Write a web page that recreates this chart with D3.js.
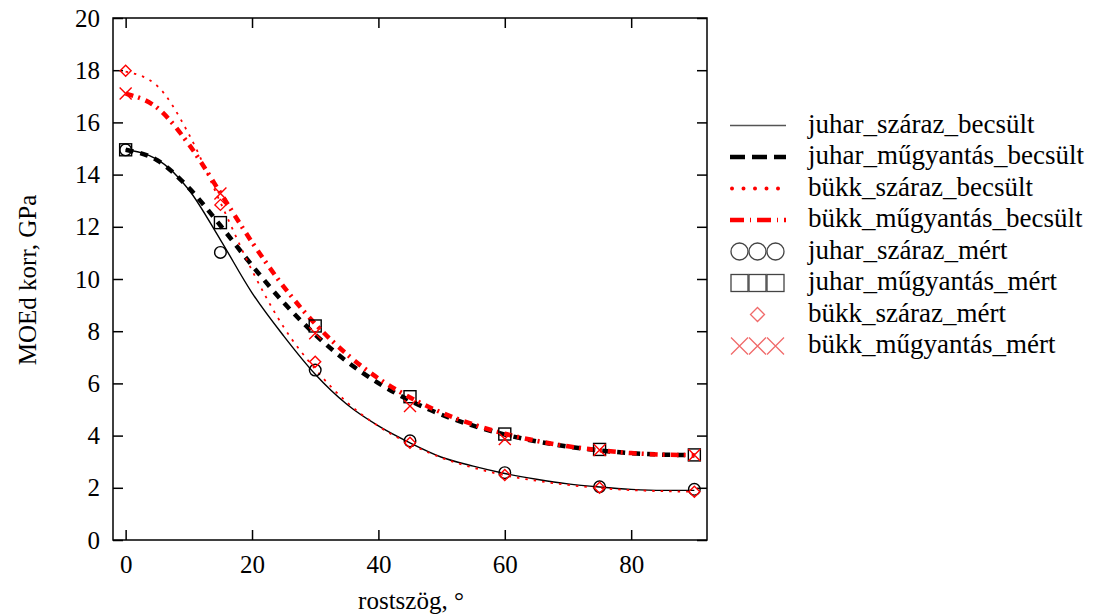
<!DOCTYPE html>
<html>
<head>
<meta charset="utf-8">
<script src="https://cdn.jsdelivr.net/npm/d3@7"></script>
<style>
  body { margin: 0; background: #fff; }
</style>
</head>
<body>
<svg id="graph" width="1094" height="615"></svg>
<script>
// angles for the estimated (becsült) curves
const angles = [0, 5, 10, 15, 20, 25, 30, 35, 40, 45, 50, 55, 60, 65, 70, 75, 80, 85, 90];
const juharSzarazBecsult = [14.95, 14.58, 13.42, 11.5, 9.47, 7.82, 6.35, 5.2, 4.37, 3.72, 3.17, 2.83, 2.55, 2.33, 2.15, 2.03, 1.94, 1.9, 1.9];
const juharMugyantasBecsult = [14.95, 14.55, 13.49, 12.05, 10.52, 9.1, 7.87, 6.84, 6.01, 5.34, 4.8, 4.38, 4.04, 3.78, 3.58, 3.43, 3.33, 3.27, 3.25];
const bukkSzarazBecsult = [17.95, 17.4, 15.55, 12.93, 10.33, 8.16, 6.55, 5.28, 4.36, 3.68, 3.15, 2.77, 2.48, 2.27, 2.11, 1.99, 1.91, 1.87, 1.85];
const bukkMugyantasBecsult = [17.1, 16.56, 15.16, 13.3, 11.41, 9.71, 8.28, 7.12, 6.19, 5.46, 4.88, 4.43, 4.07, 3.8, 3.59, 3.44, 3.33, 3.27, 3.25];

// measured (mért) points
const measAngles = [0, 15, 30, 45, 60, 75, 90];
const juharSzarazMert = [14.95, 11.02, 6.51, 3.8, 2.58, 2.04, 1.94];
const juharMugyantasMert = [14.95, 12.16, 8.2, 5.49, 4.06, 3.47, 3.26];
const bukkSzarazMert = [17.98, 12.84, 6.83, 3.73, 2.49, 2.0, 1.85];
const bukkMugyantasMert = [17.11, 13.28, 7.92, 5.13, 3.87, 3.45, 3.26];

const xTicks = [0, 20, 40, 60, 80];
const yTicks = [0, 2, 4, 6, 8, 10, 12, 14, 16, 18, 20];
const legendLabels = [
  "juhar_száraz_becsült",
  "juhar_műgyantás_becsült",
  "bükk_száraz_becsült",
  "bükk_műgyantás_becsült",
  "juhar_száraz_mért",
  "juhar_műgyantás_mért",
  "bükk_száraz_mért",
  "bükk_műgyantás_mért",
];

const serif = "'Liberation Serif', 'Times New Roman', serif";
const svg = d3.select("#graph").style("font-family", serif);
const margin = { top: 18, left: 113 };
const width = 594;
const height = 522;

const x = d3.scaleLinear().domain([-2, 92]).range([0, width]);
const y = d3.scaleLinear().domain([0, 20]).range([height, 0]);

const plot = svg.append("g").attr("transform", `translate(${margin.left},${margin.top})`);

// axes with inward ticks on all four sides
const styleAxis = (g) => {
  g.attr("font-family", serif).attr("font-size", 25);
  g.select(".domain").remove();
  g.selectAll(".tick line").attr("stroke", "#000").attr("stroke-width", 1.5);
  g.selectAll(".tick text").attr("fill", "#000").style("font-family", serif).style("font-size", "25px");
};
plot.append("g")
  .attr("transform", `translate(0,${height})`)
  .call(d3.axisBottom(x).tickValues(xTicks).tickSize(-10).tickPadding(15).tickFormat(d3.format("d")))
  .call(styleAxis);
plot.append("g")
  .call(d3.axisTop(x).tickValues(xTicks).tickSize(-10).tickFormat(""))
  .call(styleAxis);
plot.append("g")
  .call(d3.axisLeft(y).tickValues(yTicks).tickSize(-10).tickPadding(13).tickFormat(d3.format("d")))
  .call(styleAxis);
plot.append("g")
  .attr("transform", `translate(${width},0)`)
  .call(d3.axisRight(y).tickValues(yTicks).tickSize(-10).tickFormat(""))
  .call(styleAxis);

plot.append("rect")
  .attr("width", width).attr("height", height)
  .attr("fill", "none").attr("stroke", "#000").attr("stroke-width", 1.5);

// axis titles
svg.append("text")
  .attr("x", 411).attr("y", 609)
  .attr("text-anchor", "middle")
  .style("font-family", serif)
  .style("font-size", "25px")
  .text("rostszög, °");
svg.append("text")
  .attr("transform", "translate(36,280) rotate(-90)")
  .attr("text-anchor", "middle")
  .style("font-family", serif)
  .style("font-size", "25px")
  .text("MOEd korr, GPa");

// curves
const line = d3.line().x((d) => x(d[0])).y((d) => y(d[1])).curve(d3.curveMonotoneX);
const curves = [
  { values: juharSzarazBecsult, color: "#000", w: 1.4, dash: null },
  { values: juharMugyantasBecsult, color: "#000", w: 4.5, dash: "8,7" },
  { values: bukkSzarazBecsult, color: "#ff0000", w: 1.8, dash: "2.5,6" },
  { values: bukkMugyantasBecsult, color: "#ff0000", w: 4.5, dash: "8,5,2,6" },
];
curves.forEach((c) => {
  plot.append("path")
    .datum(angles.map((a, i) => [a, c.values[i]]))
    .attr("d", line)
    .attr("fill", "none")
    .attr("stroke", c.color)
    .attr("stroke-width", c.w)
    .attr("stroke-dasharray", c.dash);
});

// markers
const xPath = (s) => `M${-s},${-s}L${s},${s}M${-s},${s}L${s},${-s}`;
const diamondPath = (s) => `M0,${-s}L${s},0L0,${s}L${-s},0Z`;
const markerSets = [
  { values: juharSzarazMert, draw: (g) => g.append("circle").attr("r", 5.8), color: "#000" },
  { values: juharMugyantasMert, draw: (g) => g.append("rect").attr("x", -6).attr("y", -6).attr("width", 12).attr("height", 12), color: "#000" },
  { values: bukkSzarazMert, draw: (g) => g.append("path").attr("d", diamondPath(5.5)), color: "#ff0000" },
  { values: bukkMugyantasMert, draw: (g) => g.append("path").attr("d", xPath(6)), color: "#ff0000" },
];
markerSets.forEach((m) => {
  measAngles.forEach((a, i) => {
    const g = plot.append("g").attr("transform", `translate(${x(a)},${y(m.values[i])})`);
    m.draw(g).attr("fill", "none").attr("stroke", m.color).attr("stroke-width", 1.4);
  });
});

// legend
const legend = svg.append("g").attr("id", "legend");
const lx0 = 730;
const lx1 = 786;
const lrow = (i) => 125.5 + i * 31.5;
legendLabels.forEach((label, i) => {
  const cy = lrow(i);
  legend.append("text")
    .attr("x", 808).attr("y", cy + 7)
    .style("font-family", serif)
    .style("font-size", "27px")
    .text(label);
  const c = curves[i];
  if (c) {
    const ldash = [null, "15,7", "0,11.5", "14,6,1,6"][i];
    legend.append("line")
      .attr("x1", i === 2 ? lx0 + 2 : lx0).attr("x2", lx1).attr("y1", cy).attr("y2", cy)
      .attr("stroke", i === 0 ? "#555" : c.color)
      .attr("stroke-width", i === 0 ? 1.4 : i === 2 ? 4 : 4.5)
      .attr("stroke-linecap", i === 2 ? "round" : "butt")
      .attr("stroke-dasharray", ldash);
  }
});
const lcx = [739.5, 757.5, 775.5];
lcx.forEach((cx) => {
  legend.append("circle").attr("cx", cx).attr("cy", lrow(4)).attr("r", 8.5)
    .attr("fill", "none").attr("stroke", "#444").attr("stroke-width", 1.3);
  legend.append("rect").attr("x", cx - 8.5).attr("y", lrow(5) - 8.5).attr("width", 17).attr("height", 17)
    .attr("fill", "none").attr("stroke", "#444").attr("stroke-width", 1.3);
  legend.append("path").attr("transform", `translate(${cx},${lrow(7)})`).attr("d", xPath(8.5))
    .attr("fill", "none").attr("stroke", "#f06a6a").attr("stroke-width", 1.3);
});
legend.append("path").attr("transform", `translate(757.5,${lrow(6)})`).attr("d", diamondPath(7))
  .attr("fill", "none").attr("stroke", "#f06a6a").attr("stroke-width", 1.3);
</script>
</body>
</html>
